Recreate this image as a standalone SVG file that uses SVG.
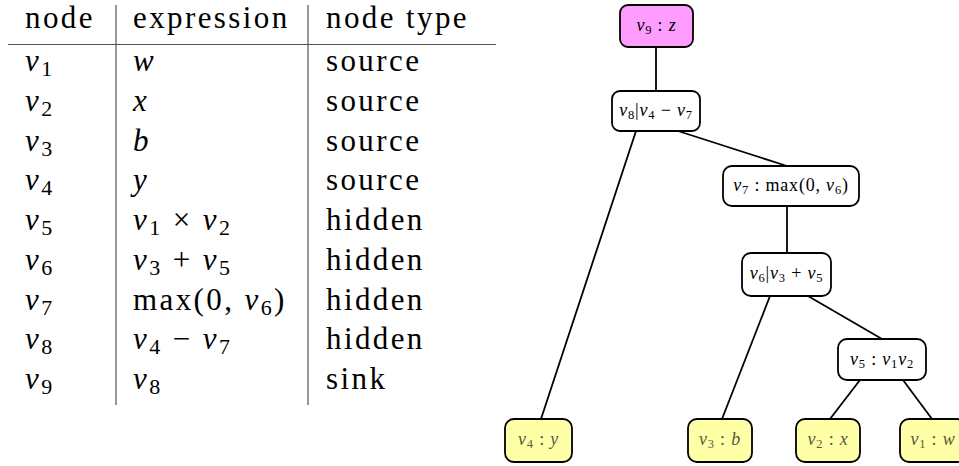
<svg xmlns="http://www.w3.org/2000/svg" width="959" height="466" viewBox="0 0 959 466">
  <style>
    .tt { font-size: 31px; letter-spacing: 2.4px; fill: #000; }
    .mi { font-style: italic; }
    .sb { font-size: 22px; font-style: normal; }
    .rule { stroke: #555; stroke-width: 1.2; fill: none; }
    .box { stroke: #000; stroke-width: 1.8; }
    .plain { fill: #fff; }
    .sink { fill: #ff9cff; }
    .leaf { fill: #ffffa8; }
    .lbl { font-size: 18px; letter-spacing: 0.8px; fill: #000; text-anchor: middle; }
    .dim { fill: #5a5a3a; }
    .ls { font-size: 12.5px; font-style: normal; }
    .edge { stroke: #000; stroke-width: 1.8; fill: none; }
  </style>

  <!-- table of nodes -->
  <g id="table" font-family="Liberation Serif, DejaVu Serif, serif">
    <line class="rule" x1="8" y1="44.5" x2="496" y2="44.5"/>
    <line class="rule" x1="116" y1="5" x2="116" y2="405"/>
    <line class="rule" x1="308" y1="5" x2="308" y2="405"/>

    <text class="tt" x="25" y="28">node</text>
    <text class="tt" x="133" y="28">expression</text>
    <text class="tt" x="326" y="28">node type</text>

    <text class="tt" y="71"><tspan class="mi" x="25">v</tspan><tspan class="sb" dy="5">1</tspan></text>
    <text class="tt mi" x="133" y="71">w</text>
    <text class="tt" x="326" y="71">source</text>

    <text class="tt" y="111"><tspan class="mi" x="25">v</tspan><tspan class="sb" dy="5">2</tspan></text>
    <text class="tt mi" x="133" y="111">x</text>
    <text class="tt" x="326" y="111">source</text>

    <text class="tt" y="151"><tspan class="mi" x="25">v</tspan><tspan class="sb" dy="5">3</tspan></text>
    <text class="tt mi" x="133" y="151">b</text>
    <text class="tt" x="326" y="151">source</text>

    <text class="tt" y="190"><tspan class="mi" x="25">v</tspan><tspan class="sb" dy="5">4</tspan></text>
    <text class="tt mi" x="133" y="190">y</text>
    <text class="tt" x="326" y="190">source</text>

    <text class="tt" y="230"><tspan class="mi" x="25">v</tspan><tspan class="sb" dy="5">5</tspan></text>
    <text class="tt" y="230"><tspan class="mi" x="133">v</tspan><tspan class="sb" dy="5">1</tspan><tspan dy="-5"> × </tspan><tspan class="mi">v</tspan><tspan class="sb" dy="5">2</tspan></text>
    <text class="tt" x="326" y="230">hidden</text>

    <text class="tt" y="270"><tspan class="mi" x="25">v</tspan><tspan class="sb" dy="5">6</tspan></text>
    <text class="tt" y="270"><tspan class="mi" x="133">v</tspan><tspan class="sb" dy="5">3</tspan><tspan dy="-5"> + </tspan><tspan class="mi">v</tspan><tspan class="sb" dy="5">5</tspan></text>
    <text class="tt" x="326" y="270">hidden</text>

    <text class="tt" y="310"><tspan class="mi" x="25">v</tspan><tspan class="sb" dy="5">7</tspan></text>
    <text class="tt" y="310"><tspan x="133">max(0, </tspan><tspan class="mi">v</tspan><tspan class="sb" dy="5">6</tspan><tspan dy="-5">)</tspan></text>
    <text class="tt" x="326" y="310">hidden</text>

    <text class="tt" y="349"><tspan class="mi" x="25">v</tspan><tspan class="sb" dy="5">8</tspan></text>
    <text class="tt" y="349"><tspan class="mi" x="133">v</tspan><tspan class="sb" dy="5">4</tspan><tspan dy="-5"> − </tspan><tspan class="mi">v</tspan><tspan class="sb" dy="5">7</tspan></text>
    <text class="tt" x="326" y="349">hidden</text>

    <text class="tt" y="389"><tspan class="mi" x="25">v</tspan><tspan class="sb" dy="5">9</tspan></text>
    <text class="tt" y="389"><tspan class="mi" x="133">v</tspan><tspan class="sb" dy="5">8</tspan></text>
    <text class="tt" x="326" y="389">sink</text>
  </g>

  <!-- tree edges -->
  <g id="edges">
    <line class="edge" x1="656" y1="47" x2="656" y2="91"/>
    <line class="edge" x1="636" y1="131" x2="541" y2="419"/>
    <line class="edge" x1="678" y1="131" x2="787" y2="166"/>
    <line class="edge" x1="787" y1="206" x2="787" y2="253"/>
    <line class="edge" x1="770" y1="296" x2="722" y2="419"/>
    <line class="edge" x1="808" y1="296" x2="882" y2="339"/>
    <line class="edge" x1="860" y1="380" x2="830" y2="419"/>
    <line class="edge" x1="903" y1="380" x2="932" y2="419"/>
  </g>

  <!-- tree nodes -->
  <g id="tree" font-family="Liberation Serif, DejaVu Serif, serif">
    <g id="v9">
      <rect class="box sink" x="620" y="5" width="73" height="42" rx="8"/>
      <text class="lbl" x="656.5" y="31"><tspan class="mi">v</tspan><tspan class="ls" dy="3">9</tspan><tspan dy="-3"> : </tspan><tspan class="mi">z</tspan></text>
    </g>
    <g id="v8">
      <rect class="box plain" x="612" y="91" width="88" height="40" rx="8"/>
      <text class="lbl" x="656" y="116"><tspan class="mi">v</tspan><tspan class="ls" dy="3">8</tspan><tspan dy="-3">|</tspan><tspan class="mi">v</tspan><tspan class="ls" dy="3">4</tspan><tspan dy="-3"> − </tspan><tspan class="mi">v</tspan><tspan class="ls" dy="3">7</tspan></text>
    </g>
    <g id="v7">
      <rect class="box plain" x="723" y="166" width="136" height="40" rx="9"/>
      <text class="lbl" x="791" y="191"><tspan class="mi">v</tspan><tspan class="ls" dy="3">7</tspan><tspan dy="-3"> : max(0, </tspan><tspan class="mi">v</tspan><tspan class="ls" dy="3">6</tspan><tspan dy="-3">)</tspan></text>
    </g>
    <g id="v6">
      <rect class="box plain" x="742" y="253" width="89" height="43" rx="9"/>
      <text class="lbl" x="786.5" y="279"><tspan class="mi">v</tspan><tspan class="ls" dy="3">6</tspan><tspan dy="-3">|</tspan><tspan class="mi">v</tspan><tspan class="ls" dy="3">3</tspan><tspan dy="-3"> + </tspan><tspan class="mi">v</tspan><tspan class="ls" dy="3">5</tspan></text>
    </g>
    <g id="v5">
      <rect class="box plain" x="838" y="339" width="88" height="41" rx="9"/>
      <text class="lbl" x="882" y="365"><tspan class="mi">v</tspan><tspan class="ls" dy="3">5</tspan><tspan dy="-3"> : </tspan><tspan class="mi">v</tspan><tspan class="ls" dy="3">1</tspan><tspan class="mi" dy="-3">v</tspan><tspan class="ls" dy="3">2</tspan></text>
    </g>
    <g id="v4">
      <rect class="box leaf" x="505" y="419" width="67" height="43" rx="9"/>
      <text class="lbl dim" x="538.5" y="445"><tspan class="mi">v</tspan><tspan class="ls" dy="3">4</tspan><tspan dy="-3"> : </tspan><tspan class="mi">y</tspan></text>
    </g>
    <g id="v3">
      <rect class="box leaf" x="688" y="419" width="64" height="43" rx="9"/>
      <text class="lbl dim" x="720" y="445"><tspan class="mi">v</tspan><tspan class="ls" dy="3">3</tspan><tspan dy="-3"> : </tspan><tspan class="mi">b</tspan></text>
    </g>
    <g id="v2">
      <rect class="box leaf" x="796" y="419" width="64" height="43" rx="9"/>
      <text class="lbl dim" x="828" y="445"><tspan class="mi">v</tspan><tspan class="ls" dy="3">2</tspan><tspan dy="-3"> : </tspan><tspan class="mi">x</tspan></text>
    </g>
    <g id="v1">
      <rect class="box leaf" x="900" y="419" width="66" height="43" rx="9"/>
      <text class="lbl dim" x="933" y="445"><tspan class="mi">v</tspan><tspan class="ls" dy="3">1</tspan><tspan dy="-3"> : </tspan><tspan class="mi">w</tspan></text>
    </g>
  </g>
</svg>
